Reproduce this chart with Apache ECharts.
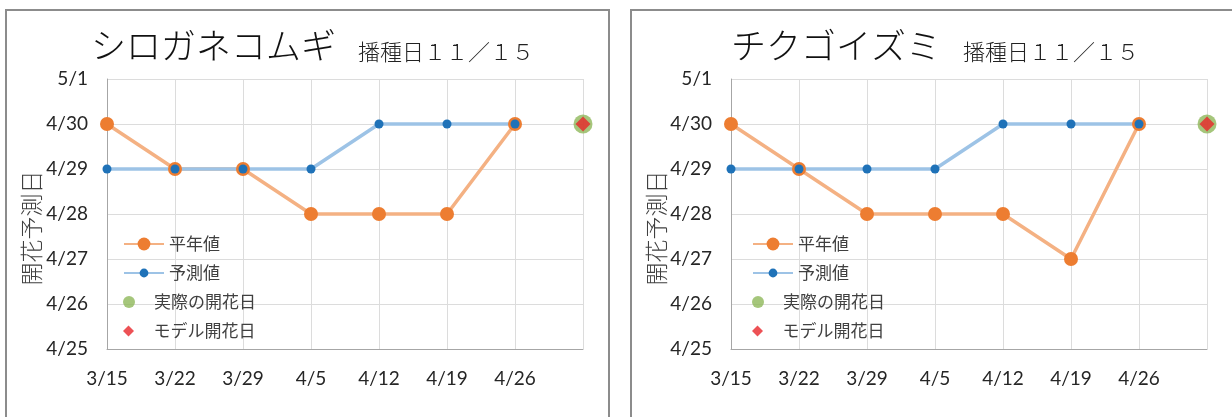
<!DOCTYPE html>
<html>
<head>
<meta charset="utf-8">
<script src="https://cdn.jsdelivr.net/npm/echarts@6/dist/echarts.min.js"></script>
<style>
  html, body { margin: 0; padding: 0; background: #fff; }
  #chart { width: 1232px; height: 417px; }
</style>
</head>
<body>
<div id="chart"></div>
<script>
// 横軸（最後の枠は開花日用でラベルなし）
const categories = ['3/15', '3/22', '3/29', '4/5', '4/12', '4/19', '4/26', '']
// 縦軸目盛
const yTicks = ['4/25', '4/26', '4/27', '4/28', '4/29', '4/30', '5/1']

// シロガネコムギ
const shiroNormal = ['4/30', '4/29', '4/29', '4/28', '4/28', '4/28', '4/30', null]
const shiroForecast = ['4/29', '4/29', '4/29', '4/29', '4/30', '4/30', '4/30', null]
const shiroActual = [null, null, null, null, null, null, null, '4/30']
const shiroModel = [null, null, null, null, null, null, null, '4/30']

// チクゴイズミ
const chikuNormal = ['4/30', '4/29', '4/28', '4/28', '4/28', '4/27', '4/30', null]
const chikuForecast = ['4/29', '4/29', '4/29', '4/29', '4/30', '4/30', '4/30', null]
const chikuActual = [null, null, null, null, null, null, null, '4/30']
const chikuModel = [null, null, null, null, null, null, null, '4/30']

const toY = (arr) => arr.map(v => (v == null ? '-' : yTicks.indexOf(v)))

const JP = '"Noto Sans CJK JP", sans-serif'
const NUM = 'Lato, "Open Sans", sans-serif'

const charts = [
  { name: 'シロガネコムギ', center: 307.5, box: [6, 10, 603, 440], nameX: 31,
    grid: { left: 107, right: 649, top: 79, bottom: 68 }, legendLeft: 123,
    normal: shiroNormal, forecast: shiroForecast, actual: shiroActual, model: shiroModel },
  { name: 'チクゴイズミ', center: 930, box: [631, 10, 640, 440], nameX: 656,
    grid: { left: 731, right: 25, top: 79, bottom: 68 }, legendLeft: 752,
    normal: chikuNormal, forecast: chikuForecast, actual: chikuActual, model: chikuModel }
]

// 凡例の行（名前・アイコン高さ・行の中心）
const legendRows = [
  { name: '平年値', h: 16, y: 244 },
  { name: '予測値', h: 11, y: 273 },
  { name: '実際の開花日', h: 12, y: 302, icon: 'circle' },
  { name: 'モデル開花日', h: 11, y: 331, icon: 'path://M5,0L10,5L5,10L0,5Z' }
]

let title = [], grid = [], xAxis = [], yAxis = [], series = [], legend = [], graphic = []

charts.forEach((c, i) => {
  title.push({
    text: '{a|' + c.name + '}{b|　播種日１１／１５}',
    left: c.center,
    top: 14,
    textAlign: 'center',
    textStyle: {
      rich: {
        a: { fontFamily: JP, fontSize: 35, fontWeight: 300, color: '#111', verticalAlign: 'bottom', lineHeight: 44 },
        b: { fontFamily: JP, fontSize: 22, fontWeight: 300, color: '#222', verticalAlign: 'bottom', lineHeight: 40 }
      }
    }
  })
  grid.push(c.grid)
  xAxis.push({
    type: 'category',
    gridIndex: i,
    data: categories,
    boundaryGap: false,
    axisLine: { lineStyle: { color: '#a6a6a6', width: 1 } },
    axisTick: { show: false },
    axisLabel: { margin: 20, fontFamily: NUM, fontSize: 19, color: '#262626' },
    splitLine: { show: true, lineStyle: { color: '#dcdcdc', width: 1 } }
  })
  yAxis.push({
    type: 'value',
    gridIndex: i,
    min: 0,
    max: yTicks.length - 1,
    interval: 1,
    axisLine: { show: true, lineStyle: { color: '#a6a6a6', width: 1 } },
    axisTick: { show: false },
    axisLabel: { margin: 19, fontFamily: NUM, fontSize: 19, color: '#262626', formatter: v => yTicks[v] },
    splitLine: { show: true, lineStyle: { color: '#dcdcdc', width: 1 } }
  })
  series.push(
    {
      name: '平年値', type: 'line', xAxisIndex: i, yAxisIndex: i,
      data: toY(c.normal), symbol: 'circle', symbolSize: 14,
      itemStyle: { color: '#ED7D31' },
      lineStyle: { color: '#F4B183', width: 3.5 }
    },
    {
      name: '予測値', type: 'line', xAxisIndex: i, yAxisIndex: i,
      data: toY(c.forecast), symbol: 'circle', symbolSize: 9,
      itemStyle: { color: '#1F72B8' },
      lineStyle: { color: '#9DC3E6', width: 3.5 }
    },
    {
      name: '実際の開花日', type: 'scatter', xAxisIndex: i, yAxisIndex: i,
      data: toY(c.actual), symbol: 'circle', symbolSize: 19,
      itemStyle: { color: '#8FB85A' }
    },
    {
      name: 'モデル開花日', type: 'scatter', xAxisIndex: i, yAxisIndex: i,
      data: toY(c.model), symbol: 'diamond', symbolSize: 15,
      itemStyle: { color: '#E8262A' }
    }
  )
  legendRows.forEach(r => {
    const l = {
      data: [r.name],
      left: c.legendLeft,
      top: r.y - 10,
      padding: 0,
      itemWidth: 40,
      itemHeight: r.h,
      selectedMode: false,
      textStyle: { fontFamily: JP, fontSize: 17, color: '#404040', lineHeight: 20 }
    }
    if (r.icon) l.icon = r.icon
    legend.push(l)
  })
  graphic.push(
    {
      type: 'rect',
      shape: { x: c.box[0], y: c.box[1], width: c.box[2], height: c.box[3] },
      style: { fill: null, stroke: '#8c8c8c', lineWidth: 2 },
      silent: true
    },
    {
      type: 'text',
      x: c.nameX,
      y: 228,
      rotation: Math.PI / 2,
      style: { text: '開花予測日', fontFamily: JP, fontSize: 23, fontWeight: 300, fill: '#404040', align: 'center', verticalAlign: 'middle' }
    }
  )
})

const myChart = echarts.init(document.getElementById('chart'))
myChart.setOption({
  animation: false,
  backgroundColor: '#fff',
  title: title,
  grid: grid,
  xAxis: xAxis,
  yAxis: yAxis,
  legend: legend,
  graphic: graphic,
  series: series
})
</script>
</body>
</html>
